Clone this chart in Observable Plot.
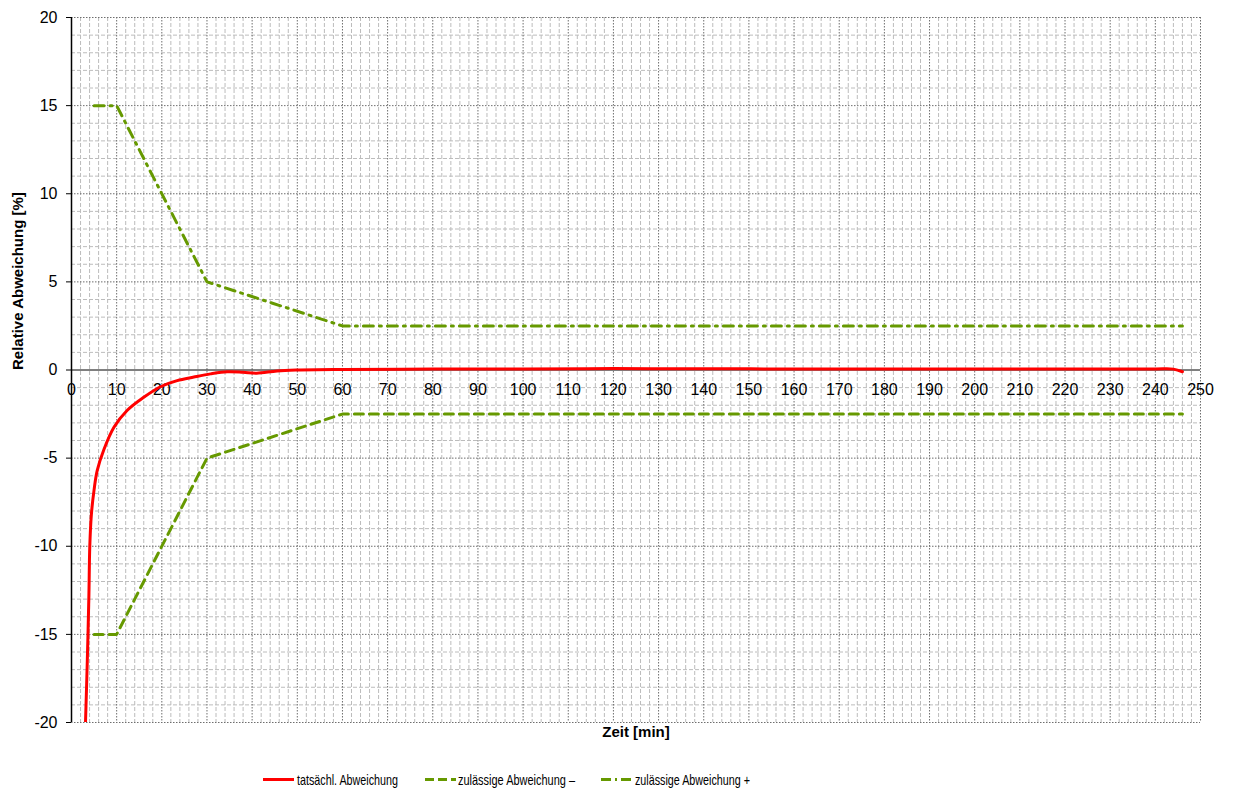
<!DOCTYPE html>
<html><head><meta charset="utf-8">
<script src="https://cdn.jsdelivr.net/npm/d3@7"></script>
<script src="https://cdn.jsdelivr.net/npm/@observablehq/plot@0.6"></script>
<style>
body{margin:0;background:#fff;font-family:"Liberation Sans",Arial,sans-serif}
#chart svg{display:block}
</style>
</head><body><div id="chart"></div>
<script>
// ---- data ----
const actualT = [3.1, 3.5, 3.85, 4.05, 4.4, 5, 5.7, 7.2, 9.4, 12.3, 16, 19.7, 23.4, 27.1, 30.8, 34.5, 38, 41, 45.5, 50, 60, 80, 100, 120, 140, 160, 180, 200, 220, 240, 244, 246];
const actualV = [-20, -16.5, -12.8, -10, -8.2, -6.8, -5.7, -4.5, -3.25, -2.3, -1.55, -0.95, -0.6, -0.4, -0.22, -0.1, -0.13, -0.18, -0.05, 0, 0.03, 0.05, 0.06, 0.08, 0.07, 0.06, 0.06, 0.06, 0.06, 0.06, 0.05, -0.1];
const limitT = [5, 10, 30, 60, 246];
const limitMinus = [-15, -15, -5, -2.5, -2.5];
const limitPlus = [15, 15, 5, 2.5, 2.5];
const xTicks = [0, 10, 20, 30, 40, 50, 60, 70, 80, 90, 100, 110, 120, 130, 140, 150, 160, 170, 180, 190, 200, 210, 220, 230, 240, 250];
const yTicks = [-20, -15, -10, -5, 0, 5, 10, 15, 20];
const seriesNames = ["tatsächl. Abweichung", "zulässige Abweichung –", "zulässige Abweichung +"];
const xLabel = "Zeit [min]";
const yLabel = "Relative Abweichung [%]";

// ---- derived tables ----
const actual = actualT.map((t, i) => ({t, v: actualV[i]}));
const minus = limitT.map((t, i) => ({t, v: limitMinus[i]}));
const plus = limitT.map((t, i) => ({t, v: limitPlus[i]}));
const minorX = d3.range(2, 250, 2).filter(d => d % 10 !== 0);
const minorY = d3.range(-19, 20, 1).filter(d => d % 5 !== 0);
const majorX = xTicks.filter(d => d !== 0);
const majorY = yTicks.filter(d => d !== 0);

const RED = "#ff0000", GREEN = "#669900";
const DASH = "9,6", DASHDOT = "10,6,2,6";

const chart = Plot.plot({
  width: 1233,
  height: 760,
  marginTop: 17,
  marginBottom: 38,
  marginLeft: 71,
  marginRight: 33,
  style: {fontFamily: "'Liberation Sans', Arial, sans-serif", background: "#fff"},
  x: {domain: [0, 250], axis: null},
  y: {domain: [-20, 20], axis: null},
  marks: [
    Plot.ruleX(minorX, {stroke: "#bcbcbc", strokeWidth: 1, strokeDasharray: "4,2"}),
    Plot.ruleY(minorY, {stroke: "#bcbcbc", strokeWidth: 1, strokeDasharray: "4,2"}),
    Plot.ruleX(majorX, {stroke: "#6e6e6e", strokeWidth: 1, strokeDasharray: "1.5,1.5"}),
    Plot.ruleY(majorY, {stroke: "#6e6e6e", strokeWidth: 1, strokeDasharray: "1.5,1.5"}),
    Plot.ruleY([0], {stroke: "#000", strokeWidth: 1}),
    Plot.ruleX([0], {stroke: "#000", strokeWidth: 1.5}),
    Plot.axisY({ticks: yTicks, tickSize: 5, tickPadding: 9, fontSize: 16, tickFormat: d => String(d), label: null, stroke: "#000"}),
    Plot.text(xTicks, {x: d => d, y: 0, dy: 20, text: d => String(d), fontSize: 16, fill: "#000"}),
    Plot.text([yLabel], {frameAnchor: "left", rotate: -90, dx: -53, fontSize: 15, fontWeight: "bold", fill: "#000"}),
    Plot.text([xLabel], {frameAnchor: "bottom", dy: 14, fontSize: 15, fontWeight: "bold", fill: "#000"}),
    Plot.line(minus, {x: "t", y: "v", stroke: GREEN, strokeWidth: 3, strokeDasharray: DASH}),
    Plot.line(plus, {x: "t", y: "v", stroke: GREEN, strokeWidth: 3, strokeDasharray: DASHDOT}),
    Plot.line(actual, {x: "t", y: "v", stroke: RED, strokeWidth: 3, curve: "catmull-rom", clip: true})
  ]
});
document.getElementById("chart").append(chart);

// ---- legend ----
const legendItems = [
  {name: seriesNames[0], color: RED, dash: null, x0: 263, tx: 297, tw: 101},
  {name: seriesNames[1], color: GREEN, dash: "9,4", x0: 425, tx: 458, tw: 117},
  {name: seriesNames[2], color: GREEN, dash: "10,4,2,4", x0: 601, tx: 635, tw: 115}
];
const ns = "http://www.w3.org/2000/svg";
const lg = document.createElementNS(ns, "svg");
lg.setAttribute("width", 1233);
lg.setAttribute("height", 29);
lg.style.display = "block";
for (const it of legendItems) {
  const l = document.createElementNS(ns, "line");
  l.setAttribute("x1", it.x0); l.setAttribute("x2", it.x0 + 31);
  l.setAttribute("y1", 19.5); l.setAttribute("y2", 19.5);
  l.setAttribute("stroke", it.color); l.setAttribute("stroke-width", 3);
  if (it.dash) l.setAttribute("stroke-dasharray", it.dash);
  lg.append(l);
  const t = document.createElementNS(ns, "text");
  t.setAttribute("x", it.tx); t.setAttribute("y", 24.5);
  t.setAttribute("font-size", 15);
  t.setAttribute("font-family", "'Liberation Sans', Arial, sans-serif");
  t.setAttribute("textLength", it.tw);
  t.setAttribute("lengthAdjust", "spacingAndGlyphs");
  t.textContent = it.name;
  lg.append(t);
}
document.getElementById("chart").append(lg);
</script>
</body></html>
